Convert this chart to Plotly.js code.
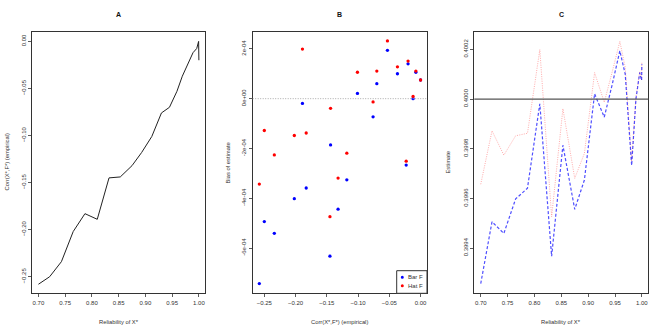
<!DOCTYPE html>
<html>
<head>
<meta charset="utf-8">
<script src="https://cdn.plot.ly/plotly-3.0.1.min.js"></script>
<style>html,body{margin:0;padding:0;background:#fff;}#chart{width:664px;height:333px;}</style>
</head>
<body>
<div id="chart"></div>
<script>
// Reliability of X* (x axis of panels A and C)
const reliability = [0.700, 0.721, 0.743, 0.765, 0.787, 0.810, 0.832, 0.853, 0.875, 0.893, 0.912, 0.930, 0.945, 0.959, 0.969, 0.981, 0.989, 0.996, 0.9995, 1.000];
// Corr(X*,F*) (empirical)
const corrEmp = [-0.258, -0.250, -0.234, -0.202, -0.183, -0.189, -0.145, -0.144, -0.132, -0.118, -0.101, -0.076, -0.070, -0.053, -0.037, -0.023, -0.012, -0.0075, 0.000, -0.020];
// Bias of estimate (panel B)
const biasBar = [-7.43e-4, -4.94e-4, -5.41e-4, -4.02e-4, -3.59e-4, -0.19e-4, -6.33e-4, -1.86e-4, -4.44e-4, -3.26e-4, 0.21e-4, -0.73e-4, 0.60e-4, 1.94e-4, 1.00e-4, -2.67e-4, 0.0, 1.06e-4, 0.75e-4, 1.40e-4];
const biasHat = [-3.43e-4, -1.28e-4, -2.26e-4, -1.48e-4, -1.38e-4, 1.99e-4, -4.74e-4, -0.39e-4, -3.19e-4, -2.19e-4, 1.06e-4, -0.13e-4, 1.11e-4, 2.32e-4, 1.28e-4, -2.51e-4, 0.09e-4, 1.11e-4, 0.75e-4, 1.51e-4];
// Estimates (panel C)
const estBar = [0.399257, 0.399506, 0.399459, 0.399598, 0.399641, 0.399981, 0.399367, 0.399814, 0.399556, 0.399674, 0.400021, 0.399927, 0.400060, 0.400194, 0.400100, 0.399733, 0.400000, 0.400106, 0.400075, 0.400140];
const estHat = [0.399657, 0.399872, 0.399774, 0.399852, 0.399862, 0.400199, 0.399526, 0.399961, 0.399681, 0.399781, 0.400106, 0.399987, 0.400111, 0.400232, 0.400128, 0.399749, 0.400009, 0.400111, 0.400075, 0.400151];
const trueValue = 0.4;
// Tick labels
const relTicks = [0.70, 0.75, 0.80, 0.85, 0.90, 0.95, 1.00];
const corrTicks = [-0.25, -0.20, -0.15, -0.10, -0.05, 0.00];
const biasTicks = [-6e-4, -4e-4, -2e-4, 0, 2e-4];
const biasTickText = ["-6e-04", "-4e-04", "-2e-04", "0e+00", "2e-04"];
const estTicks = [0.3994, 0.3996, 0.3998, 0.4000, 0.4002];
const panelTitles = ["A", "B", "C"];
const seriesNames = ["Bar F", "Hat F"];
const seriesColors = ["#0000ff", "#ff0000"];

const FONT = "Liberation Sans, Arial, Helvetica, sans-serif";
const TXT = "#333";
const W = 664, H = 333;
const dA = [32 / W, 205.3 / W], dB = [252.7 / W, 427 / W], dC = [474.3 / W, 648.3 / W];
const dY = [1 - 293.3 / H, 1 - 31.7 / H];

const traces = [
  {x: reliability, y: corrEmp, xaxis: "x", yaxis: "y", mode: "lines", type: "scatter",
   line: {color: "#222", width: 1}},
  {x: corrEmp, y: biasBar, xaxis: "x2", yaxis: "y2", mode: "markers", type: "scatter", name: seriesNames[0],
   marker: {color: seriesColors[0], size: 3.3}},
  {x: corrEmp, y: biasHat, xaxis: "x2", yaxis: "y2", mode: "markers", type: "scatter", name: seriesNames[1],
   marker: {color: seriesColors[1], size: 3.3}},
  {x: reliability, y: estHat, xaxis: "x3", yaxis: "y3", mode: "lines", type: "scatter",
   line: {color: "rgba(255,90,90,0.5)", width: 1, dash: "1px,1.3px"}},
  {x: reliability, y: estBar, xaxis: "x3", yaxis: "y3", mode: "lines", type: "scatter",
   line: {color: "rgba(20,20,255,0.75)", width: 1.2, dash: "3px,2px"}}
];

function ax(domain, range, extra) {
  return Object.assign({
    domain: domain, range: range, showgrid: false, zeroline: false,
    showline: true, mirror: true, linecolor: "#333", linewidth: 1,
    ticks: "outside", ticklen: 3, tickwidth: 0.8, tickcolor: "#333",
    tickfont: {family: FONT, size: 6, color: TXT}, fixedrange: true
  }, extra);
}

const layout = {
  width: W, height: H,
  margin: {l: 0, r: 0, t: 0, b: 0},
  paper_bgcolor: "#fff", plot_bgcolor: "#fff",
  font: {family: FONT, size: 6, color: TXT},
  showlegend: false,
  xaxis: ax(dA, [0.688, 1.012], {anchor: "y", tickvals: relTicks, tickformat: ".2f"}),
  yaxis: ax(dY, [-0.2676, 0.0103], {anchor: "x", tickvals: corrTicks, tickformat: ".2f", tickangle: -90}),
  xaxis2: ax(dB, [-0.2686, 0.0103], {anchor: "y2", tickvals: corrTicks, tickformat: ".2f"}),
  yaxis2: ax(dY, [-7.82e-4, 2.69e-4], {anchor: "x2", tickvals: biasTicks, ticktext: biasTickText, tickangle: -90}),
  xaxis3: ax(dC, [0.688, 1.012], {anchor: "y3", tickvals: relTicks, tickformat: ".2f"}),
  yaxis3: ax(dY, [0.399218, 0.400271], {anchor: "x3", tickvals: estTicks, tickformat: ".4f", tickangle: -90}),
  shapes: [
    {type: "line", xref: "x2 domain", yref: "y2", x0: 0, x1: 1, y0: 0, y1: 0,
     line: {color: "#aaa", width: 1, dash: "1px,1.5px"}},
    {type: "line", xref: "x3 domain", yref: "y3", x0: 0, x1: 1, y0: trueValue, y1: trueValue,
     line: {color: "#555", width: 1.3}},
    // legend box (panel B, bottom right)
    {type: "rect", xref: "paper", yref: "paper", x0: 396.7 / W, x1: dB[1], y0: dY[0], y1: 1 - 270.7 / H,
     line: {color: "#333", width: 1}, fillcolor: "#fff", layer: "above"}
  ],
  annotations: []
};

// legend entries
const legY = [277.3, 285.7];
for (let i = 0; i < 2; i++) {
  const cx = 402.3, cy = legY[i], r = 1.5;
  layout.shapes.push({type: "circle", xref: "paper", yref: "paper", layer: "above",
    x0: (cx - r) / W, x1: (cx + r) / W, y0: 1 - (cy + r) / H, y1: 1 - (cy - r) / H,
    fillcolor: seriesColors[i], line: {width: 0}});
  layout.annotations.push({text: seriesNames[i], xref: "paper", yref: "paper", xanchor: "left", yanchor: "middle",
    x: 405.5 / W, y: 1 - cy / H, showarrow: false, font: {family: FONT, size: 6, color: TXT}});
}

const doms = [dA, dB, dC];
const xTitles = ["Reliability of X*", "Corr(X*,F*) (empirical)", "Reliability of X*"];
const yTitles = ["Corr(X*,F*) (empirical)", "Bias of estimate", "Estimate"];
const yTitleX = [6, 227, 447];
for (let i = 0; i < 3; i++) {
  const cx = (doms[i][0] + doms[i][1]) / 2;
  layout.annotations.push({text: "<b>" + panelTitles[i] + "</b>", xref: "paper", yref: "paper",
    xanchor: "center", yanchor: "middle",
    x: cx, y: 1 - 15 / H, showarrow: false, font: {family: FONT, size: 7, color: "#111"}});
  layout.annotations.push({text: xTitles[i], xref: "paper", yref: "paper",
    xanchor: "center", yanchor: "middle",
    x: cx, y: 1 - 321.7 / H, showarrow: false, font: {family: FONT, size: 5.8, color: TXT}});
  layout.annotations.push({text: yTitles[i], xref: "paper", yref: "paper", textangle: -90,
    xanchor: "center", yanchor: "middle",
    x: yTitleX[i] / W, y: (dY[0] + dY[1]) / 2, showarrow: false, font: {family: FONT, size: 5.8, color: TXT}});
}

Plotly.newPlot("chart", traces, layout, {displayModeBar: false, staticPlot: true});
</script>
</body>
</html>
